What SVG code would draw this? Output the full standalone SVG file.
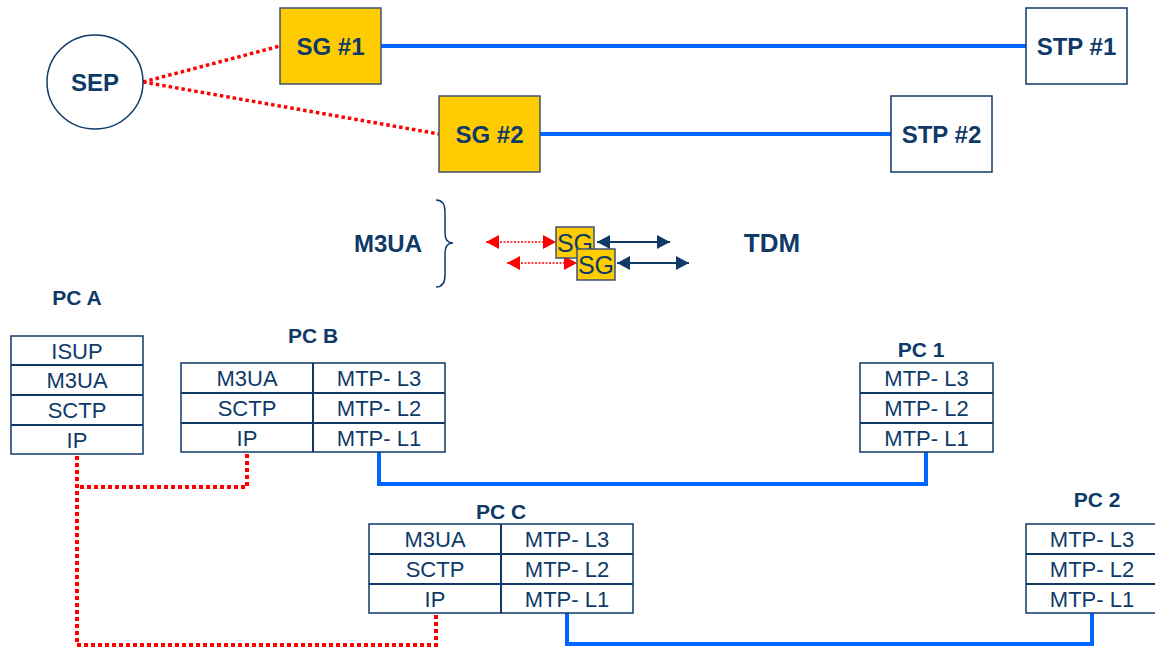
<svg xmlns="http://www.w3.org/2000/svg" width="1155" height="648" viewBox="0 0 1155 648">
<style>
text{font-family:"Liberation Sans",Arial,sans-serif;fill:#0f3a68;text-anchor:middle}
.b{font-weight:bold}
.big{font-size:24px;font-weight:bold}
.lbl{font-size:21px;font-weight:bold}
.cell{font-size:22px}
.sg{fill:#FFCC00;stroke:#3d5373;stroke-width:1.5}
.stp{fill:#fff;stroke:#0f3a68;stroke-width:1.5}
.tbl{fill:#fff;stroke:#0f3a68;stroke-width:1.5}
.row{stroke:#0f3a68;stroke-width:2;fill:none}
.blue{stroke:#0066FF;stroke-width:4;fill:none}
.red{stroke:#FF0000;stroke-width:4;fill:none;stroke-dasharray:4 3}
.redt{stroke:#FF0000;stroke-width:3.5;fill:none;stroke-dasharray:3.5 3}
.ra{stroke:#FF0000;stroke-width:1.5;fill:none;stroke-dasharray:2 1.5}
.na{stroke:#0f3a68;stroke-width:2;fill:none}
</style>
<defs>
<marker id="redHead" markerUnits="userSpaceOnUse" markerWidth="14" markerHeight="14" viewBox="0 0 14 14" refX="13" refY="7" orient="auto-start-reverse">
<path d="M0,0 L13,7 L0,14 Z" fill="#FF0000"/>
</marker>
<marker id="navyHead" markerUnits="userSpaceOnUse" markerWidth="14" markerHeight="14" viewBox="0 0 14 14" refX="13" refY="7" orient="auto-start-reverse">
<path d="M0,0 L13,7 L0,14 Z" fill="#0f3a68"/>
</marker>
</defs>

<g id="connectors">
<line class="redt" x1="143" y1="82" x2="280" y2="46"/>
<line class="redt" x1="143" y1="82" x2="439" y2="134"/>
<line class="blue" x1="381" y1="46" x2="1026" y2="46"/>
<line class="blue" x1="540" y1="134" x2="891" y2="134"/>
<polyline class="red" points="247,454 247,487 77,487"/>
<polyline class="red" points="77,456 77,645 436,645 436,615"/>
<polyline class="blue" points="379,452 379,484 926,484 926,452"/>
<polyline class="blue" points="567,613 567,644 1092,644 1092,613"/>
</g>

<g id="sep">
<ellipse cx="95" cy="82" rx="48" ry="47" fill="#fff" stroke="#0f3a68" stroke-width="1.5"/>
<text class="big" x="95" y="90.5">SEP</text>
</g>
<g id="sg1">
<rect class="sg" x="280" y="8" width="101" height="76"/>
<text class="big" x="330.5" y="54.5">SG #1</text>
</g>
<g id="sg2">
<rect class="sg" x="439" y="96" width="101" height="76"/>
<text class="big" x="489.5" y="142.5">SG #2</text>
</g>
<g id="stp1">
<rect class="stp" x="1026" y="8" width="101" height="76"/>
<text class="big" x="1076.5" y="54.5">STP #1</text>
</g>
<g id="stp2">
<rect class="stp" x="891" y="96" width="101" height="76"/>
<text class="big" x="941.5" y="142.5">STP #2</text>
</g>

<g id="legend">
<text class="b" x="388" y="252" style="font-size:24px">M3UA</text>
<path d="M436,200 Q445,200 445,212 L445,233 Q445,243 453,243 Q445,243 445,253 L445,275 Q445,287 436,287" fill="none" stroke="#0f3a68" stroke-width="1.5"/>
<line class="ra" x1="486" y1="242" x2="556" y2="242" marker-start="url(#redHead)" marker-end="url(#redHead)"/>
<line class="ra" x1="507" y1="263" x2="577" y2="263" marker-start="url(#redHead)" marker-end="url(#redHead)"/>
<rect class="sg" x="556" y="227" width="38" height="31"/>
<text x="575" y="252" style="font-size:25px">SG</text>
<rect class="sg" x="577" y="249" width="38" height="31"/>
<text x="596" y="274" style="font-size:25px">SG</text>
<line class="na" x1="597" y1="242" x2="670" y2="242" marker-start="url(#navyHead)" marker-end="url(#navyHead)"/>
<line class="na" x1="617" y1="263" x2="689" y2="263" marker-start="url(#navyHead)" marker-end="url(#navyHead)"/>
<text class="b" x="772" y="252" style="font-size:26px">TDM</text>
</g>

<g id="pcA">
<text class="lbl" x="77" y="305">PC A</text>
<rect class="tbl" x="11" y="336" width="132" height="118"/>
<line class="row" x1="11" y1="365" x2="143" y2="365"/>
<line class="row" x1="11" y1="395" x2="143" y2="395"/>
<line class="row" x1="11" y1="425" x2="143" y2="425"/>
<text class="cell" x="77" y="358.5">ISUP</text>
<text class="cell" x="77" y="388">M3UA</text>
<text class="cell" x="77" y="418">SCTP</text>
<text class="cell" x="77" y="447.5">IP</text>
</g>

<g id="pcB">
<text class="lbl" x="313" y="343">PC B</text>
<rect class="tbl" x="181" y="363" width="264" height="89"/>
<line class="row" x1="181" y1="393" x2="445" y2="393"/>
<line class="row" x1="181" y1="423" x2="445" y2="423"/>
<line class="row" x1="313" y1="363" x2="313" y2="452"/>
<text class="cell" x="247" y="386">M3UA</text>
<text class="cell" x="247" y="416">SCTP</text>
<text class="cell" x="247" y="445.5">IP</text>
<text class="cell" x="379" y="386">MTP- L3</text>
<text class="cell" x="379" y="416">MTP- L2</text>
<text class="cell" x="379" y="445.5">MTP- L1</text>
</g>

<g id="pc1">
<text class="lbl" x="921" y="357">PC 1</text>
<rect class="tbl" x="860" y="363" width="133" height="89"/>
<line class="row" x1="860" y1="393" x2="993" y2="393"/>
<line class="row" x1="860" y1="423" x2="993" y2="423"/>
<text class="cell" x="926.5" y="386">MTP- L3</text>
<text class="cell" x="926.5" y="416">MTP- L2</text>
<text class="cell" x="926.5" y="445.5">MTP- L1</text>
</g>

<g id="pcC">
<text class="lbl" x="501" y="519">PC C</text>
<rect class="tbl" x="369" y="524" width="264" height="89"/>
<line class="row" x1="369" y1="554" x2="633" y2="554"/>
<line class="row" x1="369" y1="584" x2="633" y2="584"/>
<line class="row" x1="501" y1="524" x2="501" y2="613"/>
<text class="cell" x="435" y="547">M3UA</text>
<text class="cell" x="435" y="577">SCTP</text>
<text class="cell" x="435" y="606.5">IP</text>
<text class="cell" x="567" y="547">MTP- L3</text>
<text class="cell" x="567" y="577">MTP- L2</text>
<text class="cell" x="567" y="606.5">MTP- L1</text>
</g>

<g id="pc2">
<text class="lbl" x="1097" y="507">PC 2</text>
<rect class="tbl" x="1026" y="524" width="134" height="89"/>
<line class="row" x1="1026" y1="554" x2="1160" y2="554"/>
<line class="row" x1="1026" y1="584" x2="1160" y2="584"/>
<text class="cell" x="1092" y="547">MTP- L3</text>
<text class="cell" x="1092" y="577">MTP- L2</text>
<text class="cell" x="1092" y="606.5">MTP- L1</text>
</g>
</svg>
